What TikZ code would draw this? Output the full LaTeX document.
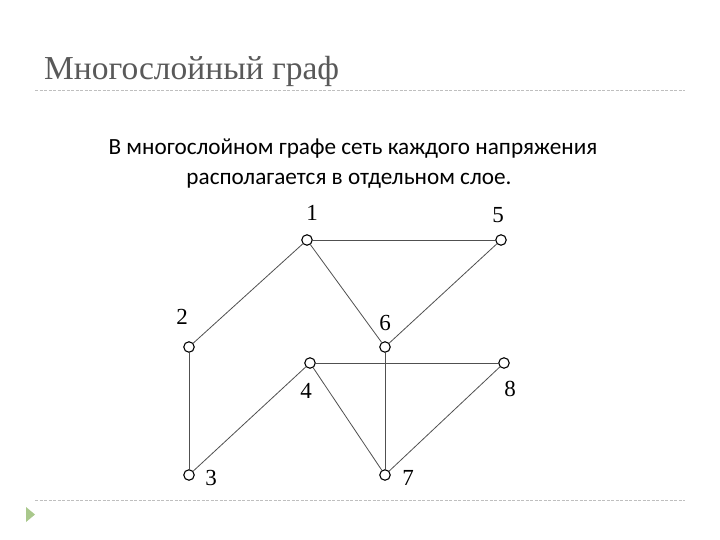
\documentclass[tikz,border=0pt]{standalone}
\usepackage{fontspec}
\setmainfont{Liberation Serif}
\newfontfamily\bodyfont{Carlito}
\newfontfamily\titlefont{Liberation Serif}
\definecolor{titlegray}{HTML}{595959}
\definecolor{rulegray}{HTML}{BFBFBF}
\definecolor{edgegray}{HTML}{505050}
\definecolor{bulletgreen}{HTML}{A9C88C}
\begin{document}
\begin{tikzpicture}[x=1pt,y=-1pt,
  vtx/.style={circle,draw=black,fill=white,line width=1.1pt,minimum size=10.5pt,inner sep=0pt},
  lbl/.style={font=\fontsize{23}{26}\selectfont,inner sep=0pt},
  edge/.style={draw=edgegray,line width=0.8pt},
  sep/.style={draw=rulegray,line width=0.8pt,dashed,dash pattern=on 3pt off 1.5pt}]
\useasboundingbox (0,0) rectangle (720,540);
\fill[white] (0,0) rectangle (720,540);
% title
\node[anchor=base west,inner sep=0pt,text=titlegray,font=\titlefont\fontsize{33.5}{36}\selectfont] (title) at (44,80) {Многослойный граф};
\draw[sep] (35,90) coordinate (t1) -- (685,90) coordinate (t2);
\draw[sep] (35,500) coordinate (b1) -- (685,500) coordinate (b2);
\fill[bulletgreen] (26,507) -- (35,514.5) -- (26,522) -- cycle;
% body text
\node[anchor=base,inner sep=0pt,font=\bodyfont\fontsize{23.2}{26}\selectfont] (l1) at (353,155) {В многослойном графе сеть каждого напряжения};
\node[anchor=base,inner sep=0pt,font=\bodyfont\fontsize{23.2}{26}\selectfont] (l2) at (349,185) {располагается в отдельном слое.};
% vertices
\node[vtx] (n1) at (307,240) {};
\node[vtx] (n5) at (501,240) {};
\node[vtx] (n2) at (189,347) {};
\node[vtx] (n6) at (385,347) {};
\node[vtx] (n4) at (310,363) {};
\node[vtx] (n8) at (504,363) {};
\node[vtx] (n3) at (189,475) {};
\node[vtx] (n7) at (385,475) {};
% edges
\draw[edge] (n1) -- (n5);
\draw[edge] (n1) -- (n2);
\draw[edge] (n1) -- (n6);
\draw[edge] (n6) -- (n5);
\draw[edge] (n2) -- (n3);
\draw[edge] (n3) -- (n4);
\draw[edge] (n4) -- (n8);
\draw[edge] (n4) -- (n7);
\draw[edge] (n6) -- (n7);
\draw[edge] (n7) -- (n8);
% labels
\node[lbl] (t1l) at (312,213) {1};
\node[lbl] (t5l) at (498,215) {5};
\node[lbl] (t2l) at (182,317) {2};
\node[lbl] (t6l) at (385,323) {6};
\node[lbl] (t4l) at (306,391) {4};
\node[lbl] (t8l) at (510,389) {8};
\node[lbl] (t3l) at (211,478) {3};
\node[lbl] (t7l) at (408,478) {7};
\end{tikzpicture}
\end{document}
